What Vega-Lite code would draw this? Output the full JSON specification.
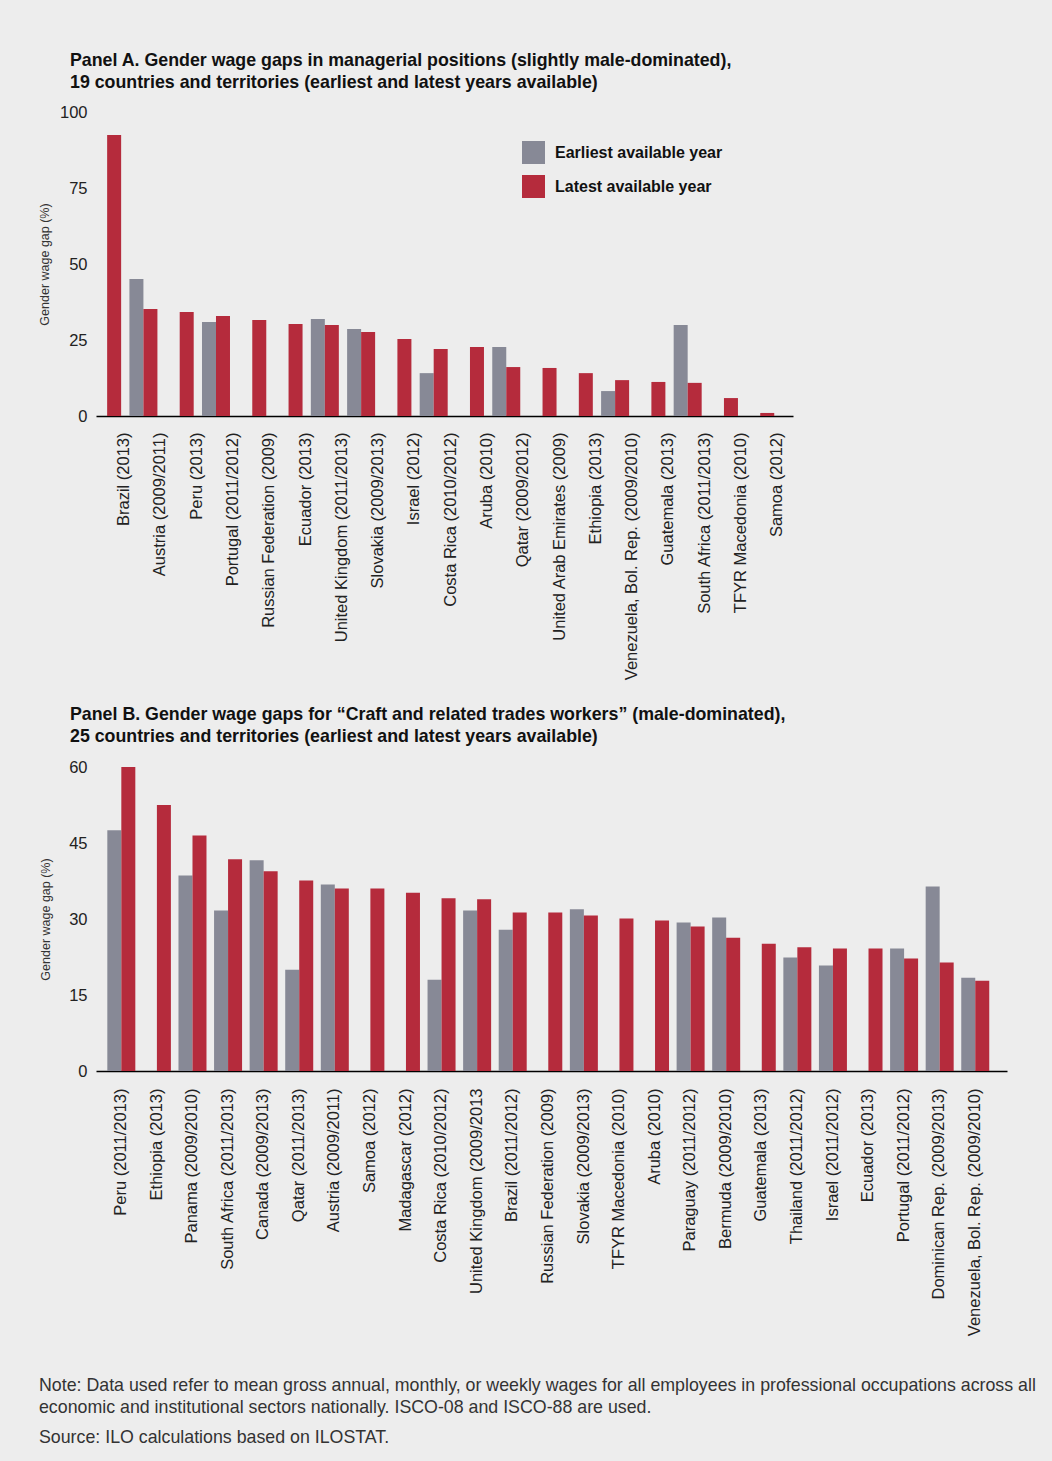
{
  "$schema": "https://vega.github.io/schema/vega-lite/v6.json",
  "background": "#ededed",
  "padding": {"left": 38, "top": 52, "right": 16, "bottom": 18},
  "spacing": 26,
  "title": {
    "text": ["Note: Data used refer to mean gross annual, monthly, or weekly wages for all employees in professional occupations across all", "economic and institutional sectors nationally. ISCO-08 and ISCO-88 are used."],
    "subtitle": "Source: ILO calculations based on ILOSTAT.",
    "orient": "bottom", "anchor": "start", "frame": "bounds",
    "font": "Liberation Sans", "fontSize": 17.8, "fontWeight": "normal", "color": "#333",
    "lineHeight": 22,
    "subtitleFont": "Liberation Sans", "subtitleFontSize": 17.8, "subtitleColor": "#333", "subtitlePadding": 13,
    "offset": 41
  },
  "config": {
    "view": {"stroke": null},
    "axis": {"grid": false, "labelFont": "Liberation Sans", "titleFont": "Liberation Sans", "labelColor": "#222", "titleColor": "#333"},
    "legend": {"labelFont": "Liberation Sans"}
  },
  "vconcat": [
    {
      "width": 697,
      "height": 304,
      "title": {
        "text": ["Panel A. Gender wage gaps in managerial positions (slightly male-dominated),", "19 countries and territories (earliest and latest years available)"],
        "anchor": "start", "frame": "group", "dx": -26,
        "font": "Liberation Sans", "fontSize": 17.8, "fontWeight": "bold", "color": "#111", "lineHeight": 22, "offset": 12
      },
      "data": {"values": [
        {"country": "Brazil (2013)", "series": "Latest available year", "value": 92.4},
        {"country": "Austria (2009/2011)", "series": "Earliest available year", "value": 45.1},
        {"country": "Austria (2009/2011)", "series": "Latest available year", "value": 35.2},
        {"country": "Peru (2013)", "series": "Latest available year", "value": 34.2},
        {"country": "Portugal (2011/2012)", "series": "Earliest available year", "value": 30.9},
        {"country": "Portugal (2011/2012)", "series": "Latest available year", "value": 32.9},
        {"country": "Russian Federation (2009)", "series": "Latest available year", "value": 31.6},
        {"country": "Ecuador (2013)", "series": "Latest available year", "value": 30.3},
        {"country": "United Kingdom (2011/2013)", "series": "Earliest available year", "value": 31.9},
        {"country": "United Kingdom (2011/2013)", "series": "Latest available year", "value": 29.9},
        {"country": "Slovakia (2009/2013)", "series": "Earliest available year", "value": 28.6},
        {"country": "Slovakia (2009/2013)", "series": "Latest available year", "value": 27.6},
        {"country": "Israel (2012)", "series": "Latest available year", "value": 25.3},
        {"country": "Costa Rica (2010/2012)", "series": "Earliest available year", "value": 14.1},
        {"country": "Costa Rica (2010/2012)", "series": "Latest available year", "value": 22.0},
        {"country": "Aruba (2010)", "series": "Latest available year", "value": 22.7},
        {"country": "Qatar (2009/2012)", "series": "Earliest available year", "value": 22.7},
        {"country": "Qatar (2009/2012)", "series": "Latest available year", "value": 16.1},
        {"country": "United Arab Emirates (2009)", "series": "Latest available year", "value": 15.8},
        {"country": "Ethiopia (2013)", "series": "Latest available year", "value": 14.1},
        {"country": "Venezuela, Bol. Rep. (2009/2010)", "series": "Earliest available year", "value": 8.2},
        {"country": "Venezuela, Bol. Rep. (2009/2010)", "series": "Latest available year", "value": 11.8},
        {"country": "Guatemala (2013)", "series": "Latest available year", "value": 11.2},
        {"country": "South Africa (2011/2013)", "series": "Earliest available year", "value": 29.9},
        {"country": "South Africa (2011/2013)", "series": "Latest available year", "value": 10.9},
        {"country": "TFYR Macedonia (2010)", "series": "Latest available year", "value": 5.9},
        {"country": "Samoa (2012)", "series": "Latest available year", "value": 1.0}
      ]},
      "mark": {"type": "bar"},
      "encoding": {
        "x": {
          "field": "country", "type": "nominal", "sort": null,
          "scale": {"paddingInner": 0, "paddingOuter": 0.105, "align": 0, "round": false},
          "axis": {"title": null, "labelAngle": -90, "labelPadding": 16, "labelOffset": 10, "ticks": false, "domainColor": "#000", "domainWidth": 1.5, "labelFontSize": 16.5, "labelLimit": 400}
        },
        "xOffset": {
          "field": "series", "type": "nominal",
          "scale": {"domain": ["Earliest available year", "Latest available year"], "range": [-2.86, 25.14], "paddingInner": 0, "paddingOuter": 0}
        },
        "y": {
          "field": "value", "type": "quantitative",
          "scale": {"domain": [0, 100], "nice": false},
          "axis": {"title": "Gender wage gap (%)", "values": [0, 25, 50, 75, 100], "domain": false, "ticks": false, "labelPadding": 9, "titlePadding": 7.5, "titleFontSize": 12.5, "titleFontWeight": "normal", "labelFontSize": 16.5}
        },
        "color": {
          "field": "series", "type": "nominal",
          "scale": {"domain": ["Earliest available year", "Latest available year"], "range": ["#878996", "#b52b3c"]},
          "legend": {"title": null, "orient": "none", "legendX": 426, "legendY": 29, "symbolType": "square", "symbolSize": 529, "symbolStrokeWidth": 0, "labelFontSize": 16, "labelFontWeight": "bold", "labelColor": "#111", "labelLimit": 300, "rowPadding": 11, "labelOffset": 10}
        }
      }
    },
    {
      "width": 911,
      "height": 304,
      "title": {
        "text": ["Panel B. Gender wage gaps for “Craft and related trades workers” (male-dominated),", "25 countries and territories (earliest and latest years available)"],
        "anchor": "start", "frame": "group", "dx": -26,
        "font": "Liberation Sans", "fontSize": 17.8, "fontWeight": "bold", "color": "#111", "lineHeight": 22, "offset": 13
      },
      "data": {"values": [
        {"country": "Peru (2011/2013)", "series": "Earliest available year", "value": 47.5},
        {"country": "Peru (2011/2013)", "series": "Latest available year", "value": 60.0},
        {"country": "Ethiopia (2013)", "series": "Latest available year", "value": 52.5},
        {"country": "Panama (2009/2010)", "series": "Earliest available year", "value": 38.6},
        {"country": "Panama (2009/2010)", "series": "Latest available year", "value": 46.5},
        {"country": "South Africa (2011/2013)", "series": "Earliest available year", "value": 31.7},
        {"country": "South Africa (2011/2013)", "series": "Latest available year", "value": 41.8},
        {"country": "Canada (2009/2013)", "series": "Earliest available year", "value": 41.6},
        {"country": "Canada (2009/2013)", "series": "Latest available year", "value": 39.4},
        {"country": "Qatar (2011/2013)", "series": "Earliest available year", "value": 20.0},
        {"country": "Qatar (2011/2013)", "series": "Latest available year", "value": 37.6},
        {"country": "Austria (2009/2011)", "series": "Earliest available year", "value": 36.8},
        {"country": "Austria (2009/2011)", "series": "Latest available year", "value": 36.0},
        {"country": "Samoa (2012)", "series": "Latest available year", "value": 36.0},
        {"country": "Madagascar (2012)", "series": "Latest available year", "value": 35.2},
        {"country": "Costa Rica (2010/2012)", "series": "Earliest available year", "value": 18.0},
        {"country": "Costa Rica (2010/2012)", "series": "Latest available year", "value": 34.1},
        {"country": "United Kingdom (2009/2013", "series": "Earliest available year", "value": 31.7},
        {"country": "United Kingdom (2009/2013", "series": "Latest available year", "value": 33.9},
        {"country": "Brazil (2011/2012)", "series": "Earliest available year", "value": 27.9},
        {"country": "Brazil (2011/2012)", "series": "Latest available year", "value": 31.3},
        {"country": "Russian Federation (2009)", "series": "Latest available year", "value": 31.3},
        {"country": "Slovakia (2009/2013)", "series": "Earliest available year", "value": 31.9},
        {"country": "Slovakia (2009/2013)", "series": "Latest available year", "value": 30.7},
        {"country": "TFYR Macedonia (2010)", "series": "Latest available year", "value": 30.1},
        {"country": "Aruba (2010)", "series": "Latest available year", "value": 29.7},
        {"country": "Paraguay (2011/2012)", "series": "Earliest available year", "value": 29.3},
        {"country": "Paraguay (2011/2012)", "series": "Latest available year", "value": 28.5},
        {"country": "Bermuda (2009/2010)", "series": "Earliest available year", "value": 30.3},
        {"country": "Bermuda (2009/2010)", "series": "Latest available year", "value": 26.3},
        {"country": "Guatemala (2013)", "series": "Latest available year", "value": 25.1},
        {"country": "Thailand (2011/2012)", "series": "Earliest available year", "value": 22.4},
        {"country": "Thailand (2011/2012)", "series": "Latest available year", "value": 24.4},
        {"country": "Israel (2011/2012)", "series": "Earliest available year", "value": 20.8},
        {"country": "Israel (2011/2012)", "series": "Latest available year", "value": 24.2},
        {"country": "Ecuador (2013)", "series": "Latest available year", "value": 24.2},
        {"country": "Portugal (2011/2012)", "series": "Earliest available year", "value": 24.2},
        {"country": "Portugal (2011/2012)", "series": "Latest available year", "value": 22.2},
        {"country": "Dominican Rep. (2009/2013)", "series": "Earliest available year", "value": 36.4},
        {"country": "Dominican Rep. (2009/2013)", "series": "Latest available year", "value": 21.4},
        {"country": "Venezuela, Bol. Rep. (2009/2010)", "series": "Earliest available year", "value": 18.4},
        {"country": "Venezuela, Bol. Rep. (2009/2010)", "series": "Latest available year", "value": 17.8}
      ]},
      "mark": {"type": "bar"},
      "encoding": {
        "x": {
          "field": "country", "type": "nominal", "sort": null,
          "scale": {"paddingInner": 0, "paddingOuter": 0.302, "align": 0.66, "round": false},
          "axis": {"title": null, "labelAngle": -90, "labelPadding": 17, "labelOffset": -7, "ticks": false, "domainColor": "#000", "domainWidth": 1.5, "labelFontSize": 16.5, "labelLimit": 400}
        },
        "xOffset": {
          "field": "series", "type": "nominal",
          "scale": {"domain": ["Earliest available year", "Latest available year"], "range": [-3.21, 24.79], "paddingInner": 0, "paddingOuter": 0}
        },
        "y": {
          "field": "value", "type": "quantitative",
          "scale": {"domain": [0, 60], "nice": false},
          "axis": {"title": "Gender wage gap (%)", "values": [0, 15, 30, 45, 60], "domain": false, "ticks": false, "labelPadding": 9, "titlePadding": 16.6, "titleFontSize": 12.5, "titleFontWeight": "normal", "labelFontSize": 16.5}
        },
        "color": {
          "field": "series", "type": "nominal",
          "scale": {"domain": ["Earliest available year", "Latest available year"], "range": ["#878996", "#b52b3c"]},
          "legend": {"title": null, "orient": "none", "legendX": 426, "legendY": 34, "symbolType": "square", "symbolSize": 529, "symbolStrokeWidth": 0, "labelFontSize": 16, "labelFontWeight": "bold", "labelColor": "#111", "labelLimit": 300, "rowPadding": 11, "labelOffset": 10}
        }
      }
    }
  ]
}
